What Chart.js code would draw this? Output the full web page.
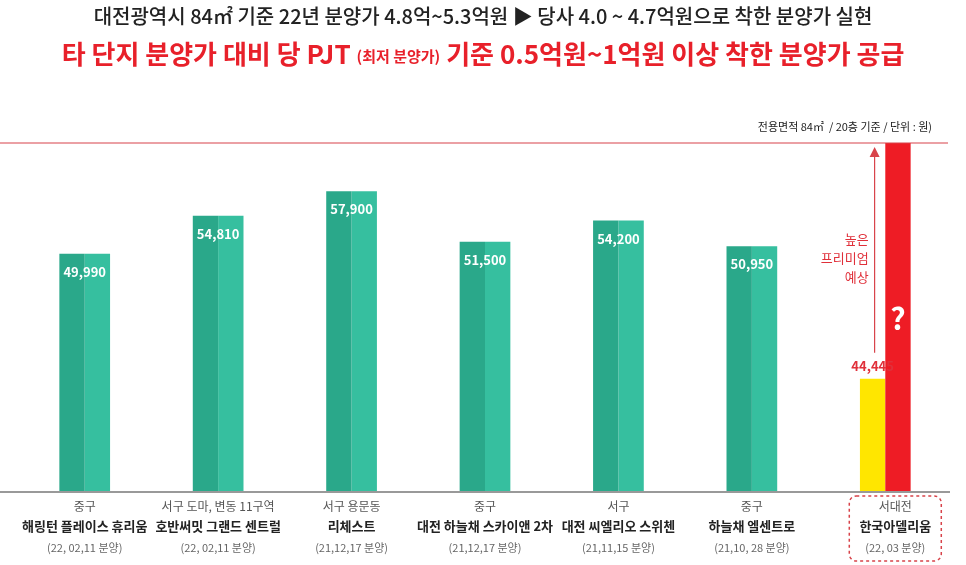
<!DOCTYPE html>
<html><head><meta charset="utf-8">
<script src="https://cdn.jsdelivr.net/npm/chart.js@4"></script>
<style>body{margin:0;background:#fff}#wrap{width:966px;height:565px}</style>
</head><body>
<div id="wrap"><canvas id="chart"></canvas></div>
<script>
const regions = ['중구', '서구 도마, 변동 11구역', '서구 용문동', '중구', '서구', '중구', '서대전'];
const names = ['해링턴 플레이스 휴리움', '호반써밋 그랜드 센트럴', '리체스트', '대전 하늘채 스카이앤 2차', '대전 씨엘리오 스위첸', '하늘채 엘센트로', '한국아델리움'];
const dates = ['(22, 02,11 분양)', '(22, 02,11 분양)', '(21,12,17 분양)', '(21,12,17 분양)', '(21,11,15 분양)', '(21,10, 28 분양)', '(22, 03 분양)'];
const others = [49990, 54810, 57900, 51500, 54200, 50950, null];
const ours = [null, null, null, null, null, null, 44445];
const yMin = 20000, yMax = 64000;

const FONT = '"Noto Sans CJK KR", sans-serif';
const rightVals = others.map(v => v === null ? yMax : v);
const rightColors = others.map(v => v === null ? '#ee1c25' : '#36bf9f');

const deco = {
  id: 'deco',
  afterDatasetsDraw(c) {
    const g = c.ctx, a = c.chartArea;
    const m0 = c.getDatasetMeta(0), m1 = c.getDatasetMeta(1), m2 = c.getDatasetMeta(2);
    g.save();
    g.textAlign = 'center';
    g.fillStyle = '#222';
    g.font = '500 20px ' + FONT;
    g.fillText('대전광역시 84㎡ 기준 22년 분양가 4.8억~5.3억원 ▶ 당사 4.0 ~ 4.7억원으로 착한 분양가 실현', 483, 24);
    const p1 = '타 단지 분양가 대비 당 PJT ', p2 = '(최저 분양가)', p3 = ' 기준 0.5억원~1억원 이상 착한 분양가 공급';
    const big = 'bold 26px ' + FONT, small = 'bold 15px ' + FONT;
    g.font = big; const w1 = g.measureText(p1).width, w3 = g.measureText(p3).width;
    g.font = small; const w2 = g.measureText(p2).width;
    let x = 483 - (w1 + w2 + w3) / 2;
    g.textAlign = 'left'; g.fillStyle = '#e8202a';
    g.font = big; g.fillText(p1, x, 64); x += w1;
    g.font = small; g.fillText(p2, x, 62); x += w2;
    g.font = big; g.fillText(p3, x, 64);
    g.fillStyle = '#222'; g.font = '11px ' + FONT; g.textAlign = 'right';
    g.fillText('전용면적 84㎡  / 20층 기준 / 단위 : 원)', 932, 131);
    g.strokeStyle = '#d8434a'; g.lineWidth = 1.2;
    g.beginPath(); g.moveTo(0, a.top); g.lineTo(948, a.top); g.stroke();
    g.strokeStyle = '#999'; g.lineWidth = 2;
    g.beginPath(); g.moveTo(0, a.bottom + 1); g.lineTo(950, a.bottom + 1); g.stroke();
    g.textAlign = 'center';
    others.forEach((v, i) => {
      const l = m0.data[i], r = m1.data[i];
      const cx = (l.x + r.x) / 2;
      if (v !== null) {
        g.fillStyle = '#fff'; g.font = 'bold 13px ' + FONT;
        g.fillText(v.toLocaleString('en-US'), cx, l.y + 23);
      } else {
        const yb = m2.data[i];
        g.fillStyle = '#e0303a'; g.font = 'bold 13px ' + FONT;
        g.fillText(ours[i].toLocaleString('en-US'), yb.x, yb.y - 8);
        const ax = yb.x + 2;
        g.strokeStyle = '#d8434a'; g.lineWidth = 1.2;
        g.beginPath(); g.moveTo(ax, yb.y - 26); g.lineTo(ax, a.top + 10); g.stroke();
        g.fillStyle = '#d8434a';
        g.beginPath(); g.moveTo(ax, a.top + 4); g.lineTo(ax - 5, a.top + 14); g.lineTo(ax + 5, a.top + 14); g.fill();
        g.fillStyle = '#e0303a'; g.font = '13px ' + FONT; g.textAlign = 'right';
        ['높은', '프리미엄', '예상'].forEach((s, k) => g.fillText(s, ax - 6, 244 + k * 19));
        g.textAlign = 'center'; g.fillStyle = '#fff'; g.font = 'bold 30px ' + FONT;
        g.fillText('?', r.x, 330);
      }
      const lx = v === null ? cx + 10 : cx;
      g.fillStyle = '#555'; g.font = '12px ' + FONT;
      g.fillText(regions[i], lx, 511);
      g.fillStyle = '#222'; g.font = 'bold 13px ' + FONT;
      g.fillText(names[i], lx, 531);
      g.fillStyle = '#666'; g.font = '11px ' + FONT;
      g.fillText(dates[i], lx, 552);
      if (v === null) {
        g.strokeStyle = '#d8434a'; g.lineWidth = 1.5; g.setLineDash([3, 3]);
        g.beginPath(); g.roundRect(lx - 46, 496, 92, 65, 7); g.stroke();
        g.setLineDash([]);
      }
    });
    g.restore();
  }
};

new Chart(document.getElementById('chart'), {
  type: 'bar',
  data: {
    labels: names,
    datasets: [
      { data: others, backgroundColor: '#2aa88a', stack: 'L', barPercentage: 1, categoryPercentage: 0.38 },
      { data: rightVals, backgroundColor: rightColors, stack: 'R', barPercentage: 1, categoryPercentage: 0.38 },
      // our project drawn on its own (not to scale) axis, as in the source graphic
      { data: ours, backgroundColor: '#ffe600', stack: 'L', yAxisID: 'y2', barPercentage: 1, categoryPercentage: 0.38 }
    ]
  },
  options: {
    responsive: true,
    maintainAspectRatio: false,
    animation: false,
    layout: { padding: { top: 143, bottom: 74, left: 18, right: 14 } },
    scales: {
      x: { display: false, stacked: true },
      y: { display: false, min: yMin, max: yMax },
      y2: { display: false, min: 0, max: 137700 }
    },
    plugins: { legend: { display: false }, tooltip: { enabled: false } }
  },
  plugins: [deco]
});
</script>
</body></html>
